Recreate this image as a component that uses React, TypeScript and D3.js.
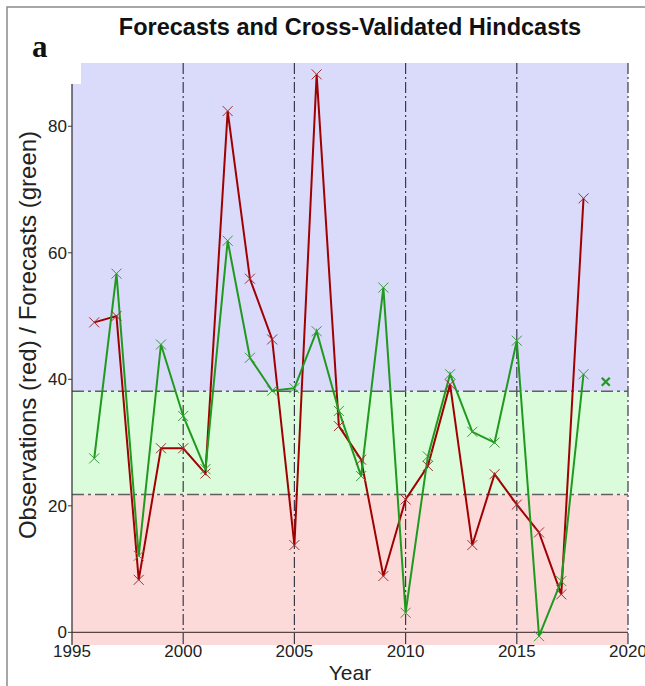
import React from 'react';
import * as d3 from 'd3';

const width = 645;
const height = 686;
const margin = { top: 63, right: 17, bottom: 41, left: 72 };

const years = d3.range(1996, 2019);
const observed = [
  49.0, 50.0, 8.3, 29.1, 29.1, 25.1, 82.4, 55.9, 46.3, 13.8, 88.2, 32.6,
  27.3, 8.9, 21.0, 26.3, 39.2, 13.8, 25.0, 20.2, 15.8, 6.0, 68.6
];
const hindcast = [
  27.5, 56.7, 12.1, 45.5, 34.2, 25.8, 61.9, 43.4, 38.2, 38.6, 47.6, 35.0,
  24.7, 54.5, 3.1, 27.8, 40.8, 31.7, 30.0, 46.1, -0.6, 8.1, 40.8
];
const forecastYear = 2019;
const forecastValue = 39.6;
const terciles = [21.8, 38.1];
const xTicks = [1995, 2000, 2005, 2010, 2015, 2020];
const yTicks = [0, 20, 40, 60, 80];

const font = '"Liberation Sans", Arial, sans-serif';

const x = d3
  .scaleLinear()
  .domain([1995, 2020])
  .range([margin.left, width - margin.right]);
const y = d3
  .scaleLinear()
  .domain([-2, 90])
  .range([height - margin.bottom, margin.top]);

const line = d3
  .line<number>()
  .x((d, i) => x(years[i]))
  .y(d => y(d));

const cross = (cx: number, cy: number, r: number) =>
  `M${cx - r},${cy - r}L${cx + r},${cy + r}M${cx - r},${cy + r}L${cx + r},${cy - r}`;

export default function App() {
  const [x0, x1] = x.range();
  const [yBottom, yTop] = y.range();
  return (
    <svg
      width={width}
      height={height}
      style={{ position: 'absolute', left: 0, top: 0, background: '#fff' }}
    >
      {/* frame */}
      <rect x={7} y={7} width={width} height={height} fill="none" stroke="#8a8a8a" strokeWidth={1.5} />

      {/* tercile bands */}
      <rect x={x0} y={yTop} width={x1 - x0} height={y(terciles[1]) - yTop} fill="#dadafb" />
      <rect x={x0} y={y(terciles[1])} width={x1 - x0} height={y(terciles[0]) - y(terciles[1])} fill="#dafcda" />
      <rect x={x0} y={y(terciles[0])} width={x1 - x0} height={yBottom - y(terciles[0])} fill="#fcdada" />

      {/* white patch behind panel letter */}
      <rect x={8} y={30} width={x0 + 9 - 8} height={54} fill="#fff" />

      {/* vertical grid */}
      {xTicks.slice(1).map(t => (
        <line
          key={t}
          x1={x(t)}
          x2={x(t)}
          y1={yTop}
          y2={yBottom}
          stroke="#3a3a4a"
          strokeWidth={1.2}
          strokeDasharray="11,3,2,3"
        />
      ))}

      {/* tercile lines */}
      {terciles.map(t => (
        <line
          key={t}
          x1={x0}
          x2={x1}
          y1={y(t)}
          y2={y(t)}
          stroke="#606060"
          strokeWidth={1.6}
          strokeDasharray="12,4,3,4"
        />
      ))}

      {/* axes */}
      <line x1={x0} x2={x1} y1={y(0)} y2={y(0)} stroke="#5a4646" strokeWidth={1.3} />
      <line x1={x0} x2={x0} y1={84} y2={yBottom} stroke="#3a3a3a" strokeWidth={1.3} />
      {yTicks.map(t => (
        <g key={t}>
          <line x1={x0 - 4} x2={x0} y1={y(t)} y2={y(t)} stroke="#3a3a3a" />
          <text x={x0 - 5} y={y(t)} dy="0.36em" textAnchor="end" fontFamily={font} fontSize={17} fill="#222">
            {t}
          </text>
        </g>
      ))}
      {xTicks.map(t => (
        <text key={t} x={x(t)} y={657} textAnchor="middle" fontFamily={font} fontSize={17} fill="#222">
          {t}
        </text>
      ))}

      {/* series */}
      <path d={line(observed) || ''} fill="none" stroke="#a00000" strokeWidth={2} />
      <path d={line(hindcast) || ''} fill="none" stroke="#1f9a1f" strokeWidth={2} />
      {observed.map((d, i) => (
        <path key={'o' + i} d={cross(x(years[i]), y(d), 5)} stroke="#a03030" strokeWidth={1} fill="none" />
      ))}
      {hindcast.map((d, i) => (
        <path key={'h' + i} d={cross(x(years[i]), y(d), 5)} stroke="#3a9a3a" strokeWidth={1} fill="none" />
      ))}
      <path d={cross(x(forecastYear), y(forecastValue), 4)} stroke="#1f9a1f" strokeWidth={2.2} fill="none" />

      {/* labels */}
      <text x={(x0 + x1) / 2} y={35} textAnchor="middle" fontFamily={font} fontWeight="bold" fontSize={23.5} fill="#111">
        Forecasts and Cross-Validated Hindcasts
      </text>
      <text x={32} y={57} fontFamily='"Liberation Serif", "Times New Roman", serif' fontWeight="bold" fontSize={31} fill="#111">
        a
      </text>
      <text x={(x0 + x1) / 2} y={680} textAnchor="middle" fontFamily={font} fontSize={21} fill="#222">
        Year
      </text>
      <text
        transform={`translate(36, 335) rotate(-90)`}
        textAnchor="middle"
        fontFamily={font}
        fontSize={24}
        fill="#222"
      >
        Observations (red) / Forecasts (green)
      </text>
    </svg>
  );
}
